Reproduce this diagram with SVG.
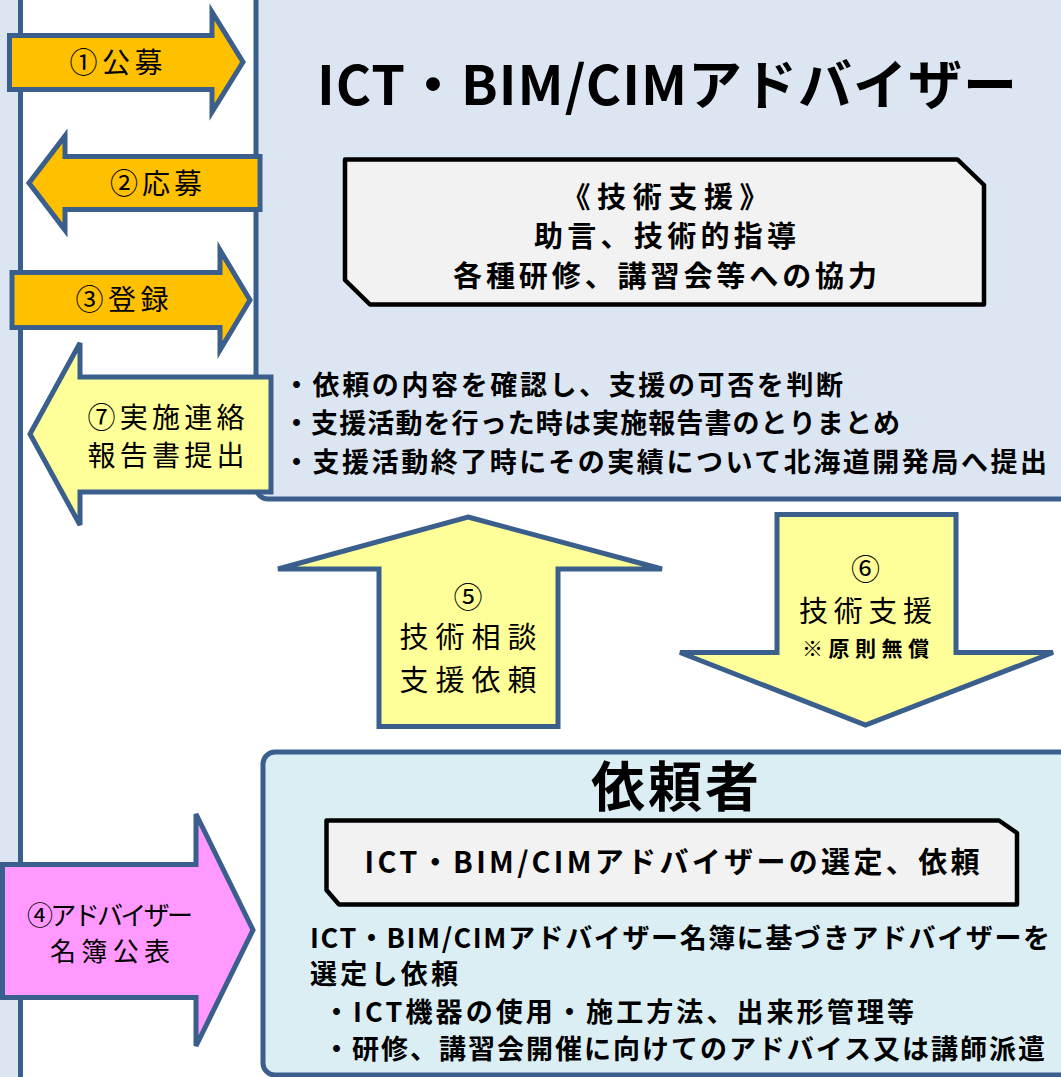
<svg xmlns="http://www.w3.org/2000/svg" width="1061" height="1077" viewBox="0 0 1061 1077">
<style>
.frame{stroke:#3b5f8c;stroke-width:5;stroke-linejoin:miter}
.blue{fill:#dce6f2}
.cyan{fill:#dbeef4}
.inner{fill:#f2f2f2;stroke:#000;stroke-width:4.5;stroke-linejoin:round}
.orange{fill:#ffc000}
.yellow{fill:#ffff99}
.pink{fill:#ff99ff}
text{font-family:"Noto Sans CJK JP","Noto Sans",sans-serif;fill:#000}
.b{font-weight:bold}
.m{text-anchor:middle}
</style>
<rect x="0" y="0" width="1061" height="1077" fill="#ffffff"/>
<g id="left-panel">
<rect class="frame blue" x="-30" y="-20" width="50.5" height="1120"/>
</g>
<g id="advisor">
<rect class="frame blue" x="256" y="-12" width="860" height="511" rx="12"/>
<text class="b" x="317" y="105" font-size="54" textLength="700">ICT・BIM/CIMアドバイザー</text>
<polygon class="inner" points="345,159.5 957.5,159.5 984,185 984,304.5 370,304.5 345,280"/>
<text class="b m" x="665" y="208" font-size="29" textLength="207">《技術支援》</text>
<text class="b m" x="665" y="247" font-size="29" textLength="262">助言、技術的指導</text>
<text class="b m" x="665" y="287" font-size="29" textLength="424">各種研修、講習会等への協力</text>
<text class="b" x="283" y="395" font-size="27" textLength="560">・依頼の内容を確認し、支援の可否を判断</text>
<text class="b" x="283" y="433" font-size="27" textLength="617">・支援活動を行った時は実施報告書のとりまとめ</text>
<text class="b" x="283" y="472" font-size="27" textLength="764">・支援活動終了時にその実績について北海道開発局へ提出</text>
</g>
<g id="requester">
<rect class="frame cyan" x="263" y="752" width="860" height="323" rx="12"/>
<text class="b m" x="675" y="807" font-size="54" textLength="168">依頼者</text>
<polygon class="inner" points="326.5,820.5 999,820.5 1017,833 1017,904.5 339,904.5 326.5,890"/>
<text class="b m" x="672" y="873" font-size="29" textLength="615">ICT・BIM/CIMアドバイザーの選定、依頼</text>
<text class="b" x="310" y="948" font-size="27" textLength="740">ICT・BIM/CIMアドバイザー名簿に基づきアドバイザーを</text>
<text class="b" x="310" y="984" font-size="27" textLength="148">選定し依頼</text>
<text class="b" x="323" y="1022" font-size="27" textLength="591">・ICT機器の使用・施工方法、出来形管理等</text>
<text class="b" x="323" y="1059" font-size="27" textLength="722">・研修、講習会開催に向けてのアドバイス又は講師派遣</text>
</g>
<g id="connectors">
<g id="arrow1">
<polygon class="frame orange" points="9.5,35.5 212,35.5 212,12 243,62 212,112 212,89.5 9.5,89.5"/>
<text class="m" x="116" y="73" font-size="28" textLength="93">①公募</text>
</g>
<g id="arrow2">
<polygon class="frame orange" points="260,156.5 65,156.5 65,136 29,183 65,230 65,209.5 260,209.5"/>
<text class="m" x="156" y="194" font-size="28" textLength="92">②応募</text>
</g>
<g id="arrow3">
<polygon class="frame orange" points="12,272.5 220,272.5 220,250 250,300 220,350 220,327.5 12,327.5"/>
<text class="m" x="122" y="310" font-size="28" textLength="93">③登録</text>
</g>
<g id="arrow7">
<polygon class="frame yellow" points="271,377 80,377 80,343 30,434 80,525 80,492 271,492"/>
<text class="m" x="166" y="428" font-size="28" textLength="157">⑦実施連絡</text>
<text class="m" x="166" y="466" font-size="28" textLength="157">報告書提出</text>
</g>
<g id="arrow5">
<polygon class="frame yellow" points="468,517 662,569 558,569 558,726.5 379,726.5 379,569 278,569"/>
<text class="m" x="468" y="608" font-size="29">⑤</text>
<text class="m" x="468" y="648" font-size="29" textLength="137">技術相談</text>
<text class="m" x="468" y="691" font-size="29" textLength="137">支援依頼</text>
</g>
<g id="arrow6">
<polygon class="frame yellow" points="777,514.5 956,514.5 956,652.5 1053,652.5 865.5,725 680,652.5 777,652.5"/>
<text class="m" x="865.5" y="580" font-size="29">⑥</text>
<text class="m" x="865.5" y="622" font-size="29" textLength="133">技術支援</text>
<text class="b m" x="865.5" y="656" font-size="21" textLength="127">※原則無償</text>
</g>
<g id="arrow4">
<polygon class="frame pink" points="2.5,864.5 196,864.5 196,814 253,930 196,1046 196,997.5 2.5,997.5"/>
<text class="m" x="110" y="925" font-size="26" textLength="166">④アドバイザー</text>
<text class="m" x="110" y="961" font-size="26" textLength="120">名簿公表</text>
</g>
</g>
</svg>
